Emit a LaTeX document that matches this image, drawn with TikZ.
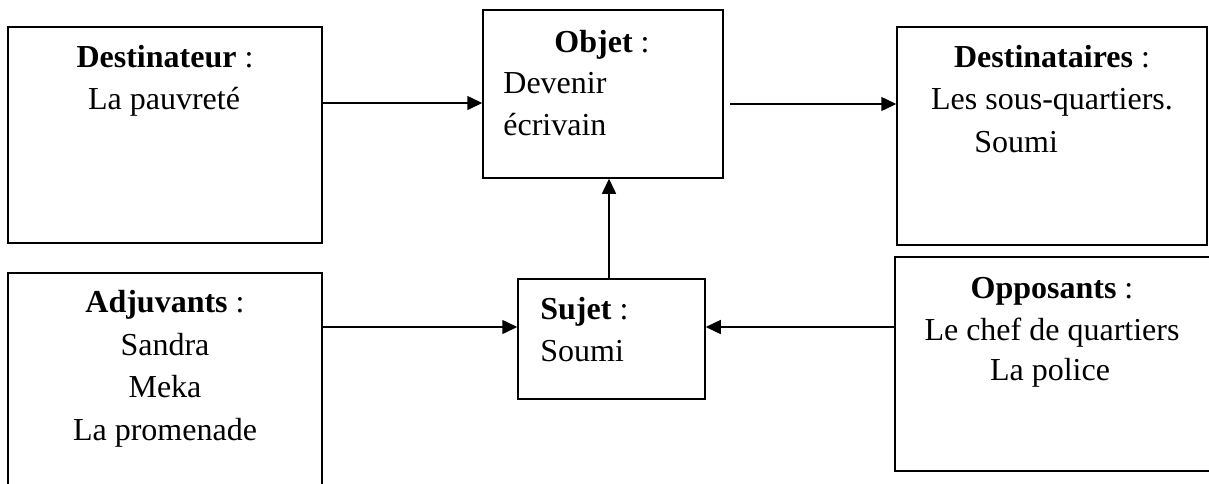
\documentclass[tikz,border=0pt]{standalone}
\usepackage{fontspec}
\setmainfont{Liberation Serif}
\usetikzlibrary{arrows.meta}
\begin{document}
\begin{tikzpicture}[x=0.5pt,y=-0.5pt,
  box/.style={draw=black,line width=0.75pt,inner sep=0pt,rectangle},
  txt/.style={inner sep=0pt,anchor=base,font=\fontsize{16}{19}\selectfont},
  txtl/.style={inner sep=0pt,anchor=base west,font=\fontsize{16}{19}\selectfont},
  arr/.style={line width=0.75pt,-{Triangle[length=7.5pt,width=7pt]}}]
\clip (0,0) rectangle (1209,483);
\fill[white] (0,0) rectangle (1209,483);
% boxes
\node[box,minimum width=157pt,minimum height=108pt] (dest) at (165,135) {};
\node[box,minimum width=120pt,minimum height=84pt] (obj) at (603,94) {};
\node[box,minimum width=155pt,minimum height=109pt] (dsts) at (1052,136) {};
\node[box,minimum width=157pt,minimum height=123.5pt] (adj) at (165,396.5) {};
\node[box,minimum width=93.5pt,minimum height=60pt] (suj) at (611.5,339) {};
\node[box,minimum width=167.5pt,minimum height=107pt] (opp) at (1062.5,364) {};
% texts
\node[txt] (t1) at (165,67) {\textbf{Destinateur} :};
\node[txt] (t2) at (164,109) {La pauvreté};
\node[txt] (t3) at (602,52) {\textbf{Objet} :};
\node[txtl] (t4) at (503,93) {Devenir};
\node[txtl] (t5) at (503,135) {écrivain};
\node[txt] (t6) at (1052,67) {\textbf{Destinataires} :};
\node[txt] (t7) at (1052,109) {Les sous-quartiers.};
\node[txtl] (t8) at (974,152) {Soumi};
\node[txt] (t9) at (165,312) {\textbf{Adjuvants} :};
\node[txt] (t10) at (165,355) {Sandra};
\node[txt] (t11) at (165,397) {Meka};
\node[txt] (t12) at (165,440) {La promenade};
\node[txtl] (t13) at (540,319) {\textbf{Sujet} :};
\node[txtl] (t14) at (540,361) {Soumi};
\node[txt] (t15) at (1052,298) {\textbf{Opposants} :};
\node[txt] (t16) at (1052,340) {Le chef de quartiers};
\node[txt] (t17) at (1050,380) {La police};
% connectors
\coordinate (os) at (730,104);
\draw[arr] (dest.east |- 0,103) -- (obj.west |- 0,103);
\draw[arr] (os) -- (dsts.west |- os);
\draw[arr] (suj.north -| 609,0) -- (obj.south -| 609,0);
\draw[arr] (adj.east |- 0,327) -- (suj.west |- 0,327);
\draw[arr] (opp.west |- 0,327) -- (suj.east |- 0,327);
\end{tikzpicture}
\end{document}
